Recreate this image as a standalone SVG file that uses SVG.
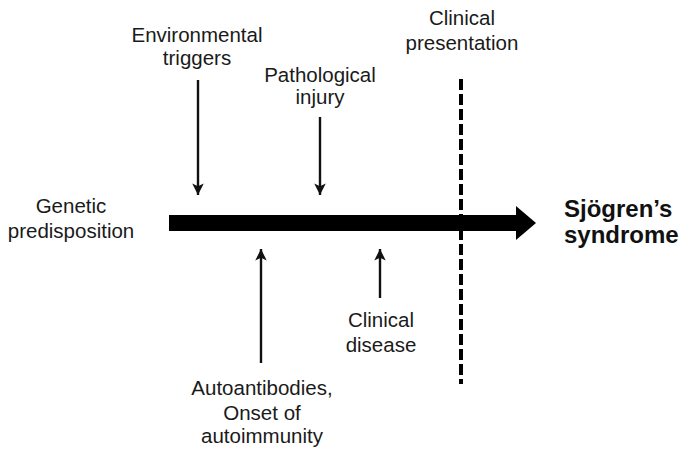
<svg xmlns="http://www.w3.org/2000/svg" width="680" height="450" viewBox="0 0 680 450">
<style>
text{font-family:"Liberation Sans",Arial,sans-serif;font-size:20.5px;fill:#1a1a1a;text-anchor:middle}
.b{font-weight:bold;font-size:24px;fill:#111;text-anchor:start}
.ln{stroke:#111;stroke-width:2.4;fill:none}
</style>
<defs>
<marker id="ah" viewBox="0 0 10 10" refX="10" refY="5" markerWidth="4.8" markerHeight="5" markerUnits="strokeWidth" orient="auto">
<path d="M0,0 L10,5 L0,10 L2.5,5 Z" fill="#111"/>
</marker>
</defs>
<rect width="680" height="450" fill="#fff"/>
<g id="connectors">
<line class="ln" x1="198" y1="80" x2="198" y2="195" marker-end="url(#ah)"/>
<line class="ln" x1="320" y1="117" x2="320" y2="195" marker-end="url(#ah)"/>
<line class="ln" x1="261" y1="363" x2="261" y2="249" marker-end="url(#ah)"/>
<line class="ln" x1="380" y1="298" x2="380" y2="249" marker-end="url(#ah)"/>
</g>
<g id="timeline">
<rect x="169" y="215" width="350" height="16" fill="#000"/>
<polygon points="516,206 536,223 516,240" fill="#000"/>
</g>
<g id="presentation-line">
<line x1="461" y1="79" x2="461" y2="384" stroke="#000" stroke-width="4" stroke-dasharray="11 4"/>
</g>
<g id="genetic">
<text x="71" y="213">Genetic</text>
<text x="71" y="238">predisposition</text>
</g>
<g id="environmental">
<text x="197" y="42">Environmental</text>
<text x="197" y="65">triggers</text>
</g>
<g id="pathological">
<text x="320" y="82">Pathological</text>
<text x="320" y="104">injury</text>
</g>
<g id="clinical-presentation">
<text x="462" y="25">Clinical</text>
<text x="462" y="50">presentation</text>
</g>
<g id="autoantibodies">
<text x="262" y="395">Autoantibodies,</text>
<text x="262" y="420">Onset of</text>
<text x="262" y="443">autoimmunity</text>
</g>
<g id="clinical-disease">
<text x="381" y="327">Clinical</text>
<text x="381" y="352">disease</text>
</g>
<g id="sjogren">
<text class="b" x="564" y="217">Sjögren’s</text>
<text class="b" x="564" y="243">syndrome</text>
</g>
</svg>
